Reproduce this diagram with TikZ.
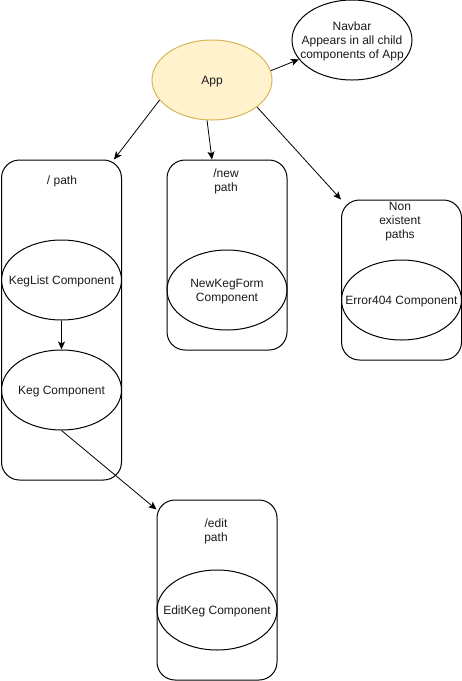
\documentclass[tikz,border=0pt]{standalone}
\usepackage{fontspec}
\setmainfont{Liberation Sans}
\usetikzlibrary{shapes.geometric,arrows.meta,positioning}
\definecolor{appfill}{HTML}{FFF2CC}
\definecolor{appdraw}{HTML}{D6B656}
\definecolor{txt}{HTML}{1A1A1A}
\begin{document}
\begin{tikzpicture}[x=1pt,y=-1pt,
  every node/.style={font=\fontsize{12}{14}\selectfont, text=txt},
  every label/.style={yshift=-1.5pt},
  comp/.style={ellipse, draw=black, line width=1pt, minimum width=120pt, minimum height=80pt, inner sep=0pt},
  pathbox/.style={rectangle, draw=black, line width=1pt, rounded corners=18pt, minimum width=120pt, inner sep=0pt},
  title/.style={align=center, inner sep=0pt},
  conn/.style={line width=0.8pt, -{Stealth[length=8pt,width=7pt,inset=2pt]}}
]
\useasboundingbox (0,0) rectangle (462,681);

% boxes
\node[pathbox, minimum height=320pt] (rootbox) at (61.5,320) {};
\node[pathbox, minimum height=190pt] (newbox) at (227,255) {};
\node[pathbox, minimum height=160pt] (nebox) at (401.5,280) {};
\node[pathbox, minimum height=180pt] (editbox) at (217,590) {};

% box titles
\node[title] (roottitle) at (62,181.5) {/ path};
\node[title] (newtitle) at (226,181.5) {/new\\path};
\node[title] (netitle) at (400,221.5) {Non\\existent\\paths};
\node[title] (edittitle) at (216,531.5) {/edit\\path};

% ellipses
\node[comp, fill=appfill, draw=appdraw, label={center:App}] (app) at (212,80) {};
\node[comp, label={[align=center]center:Navbar\\Appears in all child\\components of App}] (navbar) at (352,40) {};
\node[comp, label={center:KegList Component}] (keglist) at (61.5,280) {};
\node[comp, label={center:Keg Component}] (keg) at (61.5,390) {};
\node[comp, label={[align=center]center:NewKegForm\\Component}] (newform) at (227,290) {};
\node[comp, label={center:Error404 Component}] (err) at (401.5,300) {};
\node[comp, label={center:EditKeg Component}] (editkeg) at (217,610) {};

% connectors
\draw[conn] (app.9.5) -- (navbar.200);
\draw[conn] (app.201.8) -- ([xshift=-8pt]rootbox.north east);
\draw[conn] (app.263) -- ([xshift=-15pt]newbox.north);
\draw[conn] (app.329) -- (nebox.north west);
\draw[conn] (keglist.south) -- (keg.north);
\draw[conn] (keg.south) -- ([yshift=-10pt]editbox.north west);
\end{tikzpicture}
\end{document}
